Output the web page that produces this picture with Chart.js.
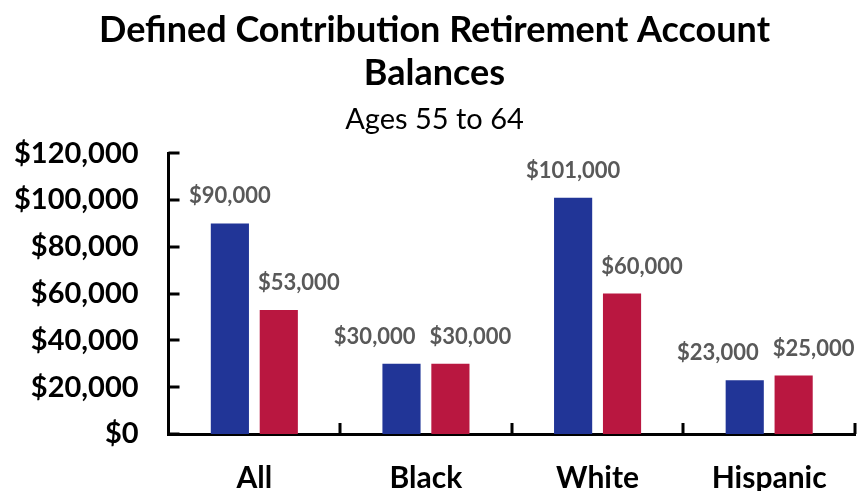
<!DOCTYPE html>
<html>
<head>
<meta charset="utf-8">
<script src="https://cdn.jsdelivr.net/npm/chart.js@4.4.1/dist/chart.umd.min.js"></script>
<style>
  html, body { margin: 0; padding: 0; background: #fff; }
  #wrap { width: 862px; height: 491px; }
</style>
</head>
<body>
<div id="wrap"><canvas id="chart"></canvas></div>
<script>
// Datos del gráfico
const categories = ['All', 'Black', 'White', 'Hispanic'];
const balancesBlue = [90000, 30000, 101000, 23000];
const balancesRed = [53000, 30000, 60000, 25000];
const yMin = 0;
const yMax = 120000;
const yStep = 20000;

const FONT = 'Lato';
const money = (v) => '$' + v.toLocaleString('en-US');

// Marcas de eje hacia dentro y etiquetas de valor sobre cada barra
const decorations = {
    id: 'decorations',
    afterDatasetsDraw: (chart) => {
        const ctx = chart.ctx;
        const { left, right, bottom } = chart.chartArea;
        const yScale = chart.scales.y;
        ctx.save();
        ctx.strokeStyle = '#000';
        ctx.lineWidth = 3;
        ctx.beginPath();
        yScale.ticks.forEach(t => {
            const py = Math.round(yScale.getPixelForValue(t.value));
            ctx.moveTo(left, py);
            ctx.lineTo(left + 11, py);
        });
        const step = (right - left) / categories.length;
        for (let i = 1; i <= categories.length; i++) {
            const px = Math.round(left + step * i);
            ctx.moveTo(px, bottom);
            ctx.lineTo(px, bottom - 11);
        }
        ctx.stroke();

        // Etiquetas: la roja se desplaza a la derecha; la azul se aparta si se solapan
        ctx.fillStyle = '#595959';
        ctx.font = 'bold 22px ' + FONT;
        ctx.textAlign = 'center';
        ctx.textBaseline = 'middle';
        const blueBars = chart.getDatasetMeta(0).data;
        const redBars = chart.getDatasetMeta(1).data;
        categories.forEach((_, i) => {
            const tBlue = money(balancesBlue[i]);
            const tRed = money(balancesRed[i]);
            const wBlue = ctx.measureText(tBlue).width;
            const wRed = ctx.measureText(tRed).width;
            const yBlue = blueBars[i].y - 27;
            const yRed = redBars[i].y - 27;
            const xRed = redBars[i].x + 20;
            let xBlue = blueBars[i].x;
            if (Math.abs(yBlue - yRed) < 24) {
                xBlue = Math.min(xBlue, xRed - wRed / 2 - 14 - wBlue / 2);
            }
            ctx.fillText(tBlue, xBlue, yBlue);
            ctx.fillText(tRed, xRed, yRed);
        });
        ctx.restore();
    }
};

const config = {
    type: 'bar',
    data: {
        labels: categories,
        datasets: [{
            data: balancesBlue,
            backgroundColor: '#213597',
            borderWidth: 0,
            barPercentage: 0.78,
            categoryPercentage: 0.57
        }, {
            data: balancesRed,
            backgroundColor: '#B91740',
            borderWidth: 0,
            barPercentage: 0.78,
            categoryPercentage: 0.57
        }]
    },
    options: {
        responsive: true,
        maintainAspectRatio: false,
        animation: false,
        layout: { padding: { left: 14, right: 7, top: 0, bottom: 0 } },
        plugins: {
            legend: { display: false },
            tooltip: { enabled: false },
            title: {
                display: true,
                text: ['Defined Contribution Retirement Account', 'Balances'],
                color: '#000',
                font: { family: FONT, size: 36, weight: 'bold', lineHeight: 1.2 },
                padding: { top: 9, bottom: 0 }
            },
            subtitle: {
                display: true,
                text: 'Ages 55 to 64',
                color: '#000',
                font: { family: FONT, size: 29, weight: 'normal', lineHeight: 1.2 },
                padding: { top: 7, bottom: 16 }
            }
        },
        scales: {
            x: {
                grid: { display: false, drawTicks: false },
                border: { display: true, color: '#000', width: 3 },
                ticks: {
                    color: '#000',
                    padding: 31,
                    font: { family: FONT, size: 30, weight: 'bold', lineHeight: 0.9 }
                },
                afterFit: (scale) => { scale.height = 57; }
            },
            y: {
                min: yMin,
                max: yMax,
                grid: { display: false, drawTicks: false },
                border: { display: true, color: '#000', width: 3 },
                ticks: {
                    stepSize: yStep,
                    color: '#000',
                    padding: 30,
                    font: { family: FONT, size: 29, weight: 'bold' },
                    callback: (v) => money(v)
                },
                afterFit: (scale) => { scale.width -= 30; }
            }
        }
    },
    plugins: [decorations]
};

new Chart(document.getElementById('chart'), config);
</script>
</body>
</html>
